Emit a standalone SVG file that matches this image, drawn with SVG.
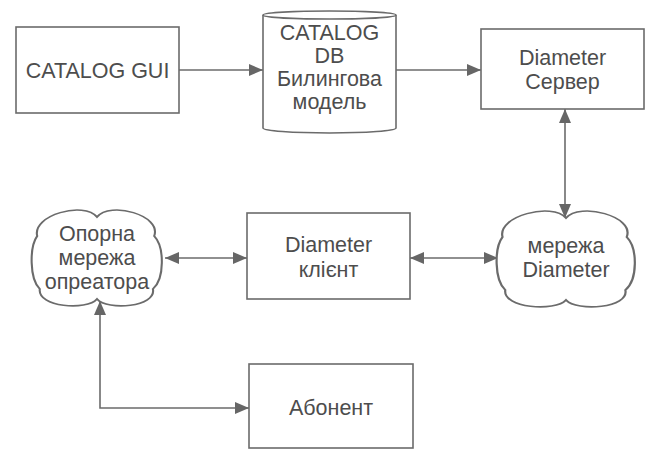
<svg xmlns="http://www.w3.org/2000/svg" width="646" height="450" viewBox="0 0 646 450">
<style>
.box{fill:#fff;stroke:#6b6b6b;stroke-width:1.6}
.t{font-family:"Liberation Sans",Arial,sans-serif;font-size:21.5px;fill:#4d4d4d;text-anchor:middle}
.c{fill:none;stroke:#6b6b6b;stroke-width:1.6}
.cl{fill:#fff;stroke:#6b6b6b;stroke-width:1.6;vector-effect:non-scaling-stroke}
</style>
<defs>
<marker id="ah" viewBox="0 0 14 12" refX="14" refY="6" markerWidth="14" markerHeight="12" markerUnits="userSpaceOnUse" orient="auto-start-reverse">
<path d="M0,0 L14,6 L0,12 Z" fill="#666"/>
</marker>
<path id="cloud" d="M4,29 C0,8 40,-6 50,10 C60,-6 100,8 94,29 C102,40 102,72 93,82 C96,100 58,104 50,92 C42,104 4,100 6,82 C-2,72 -2,40 4,29 Z"/>
</defs>
<rect width="646" height="450" fill="#fff"/>
<g id="connectors">
<path class="c" d="M179,70 L263,70" marker-end="url(#ah)"/>
<path class="c" d="M396,70 L481,70" marker-end="url(#ah)"/>
<path class="c" d="M565,109 L565,218" marker-start="url(#ah)" marker-end="url(#ah)"/>
<path class="c" d="M410,258 L498,258" marker-start="url(#ah)" marker-end="url(#ah)"/>
<path class="c" d="M165,258 L247,258" marker-start="url(#ah)" marker-end="url(#ah)"/>
<path class="c" d="M100,301 L100,408 L249,408" marker-start="url(#ah)" marker-end="url(#ah)"/>
</g>
<g id="catalog-gui">
<rect class="box" x="16" y="27" width="163" height="86"/>
<text class="t" x="97.5" y="78">CATALOG GUI</text>
</g>
<g id="catalog-db">
<path class="box" d="M263,15 L263,128 A66.5,5 0 0 0 396,128 L396,15 A66.5,4 0 0 0 263,15 Z"/>
<path class="c" d="M263,15 A66.5,4 0 0 0 396,15"/>
<text class="t" x="329.5" y="40">CATALOG</text>
<text class="t" x="329.5" y="63">DB</text>
<text class="t" x="329.5" y="86">Билингова</text>
<text class="t" x="329.5" y="109">модель</text>
</g>
<g id="diameter-server">
<rect class="box" x="481" y="29" width="163" height="80"/>
<text class="t" x="562.5" y="65">Diameter</text>
<text class="t" x="562.5" y="89">Сервер</text>
</g>
<g id="diameter-client">
<rect class="box" x="247" y="213" width="163" height="86"/>
<text class="t" x="328.5" y="252">Diameter</text>
<text class="t" x="328.5" y="277">клієнт</text>
</g>
<g id="diameter-network">
<use href="#cloud" class="cl" transform="translate(497,208) scale(1.38,1.0)"/>
<text class="t" x="566" y="253">мережа</text>
<text class="t" x="566" y="277">Diameter</text>
</g>
<g id="operator-network">
<use href="#cloud" class="cl" transform="translate(32,207) scale(1.30,1.0)"/>
<text class="t" x="97" y="241">Опорна</text>
<text class="t" x="97" y="265">мережа</text>
<text class="t" x="97" y="289">опреатора</text>
</g>
<g id="subscriber">
<rect class="box" x="249" y="364" width="164" height="84"/>
<text class="t" x="331" y="415">Абонент</text>
</g>
</svg>
